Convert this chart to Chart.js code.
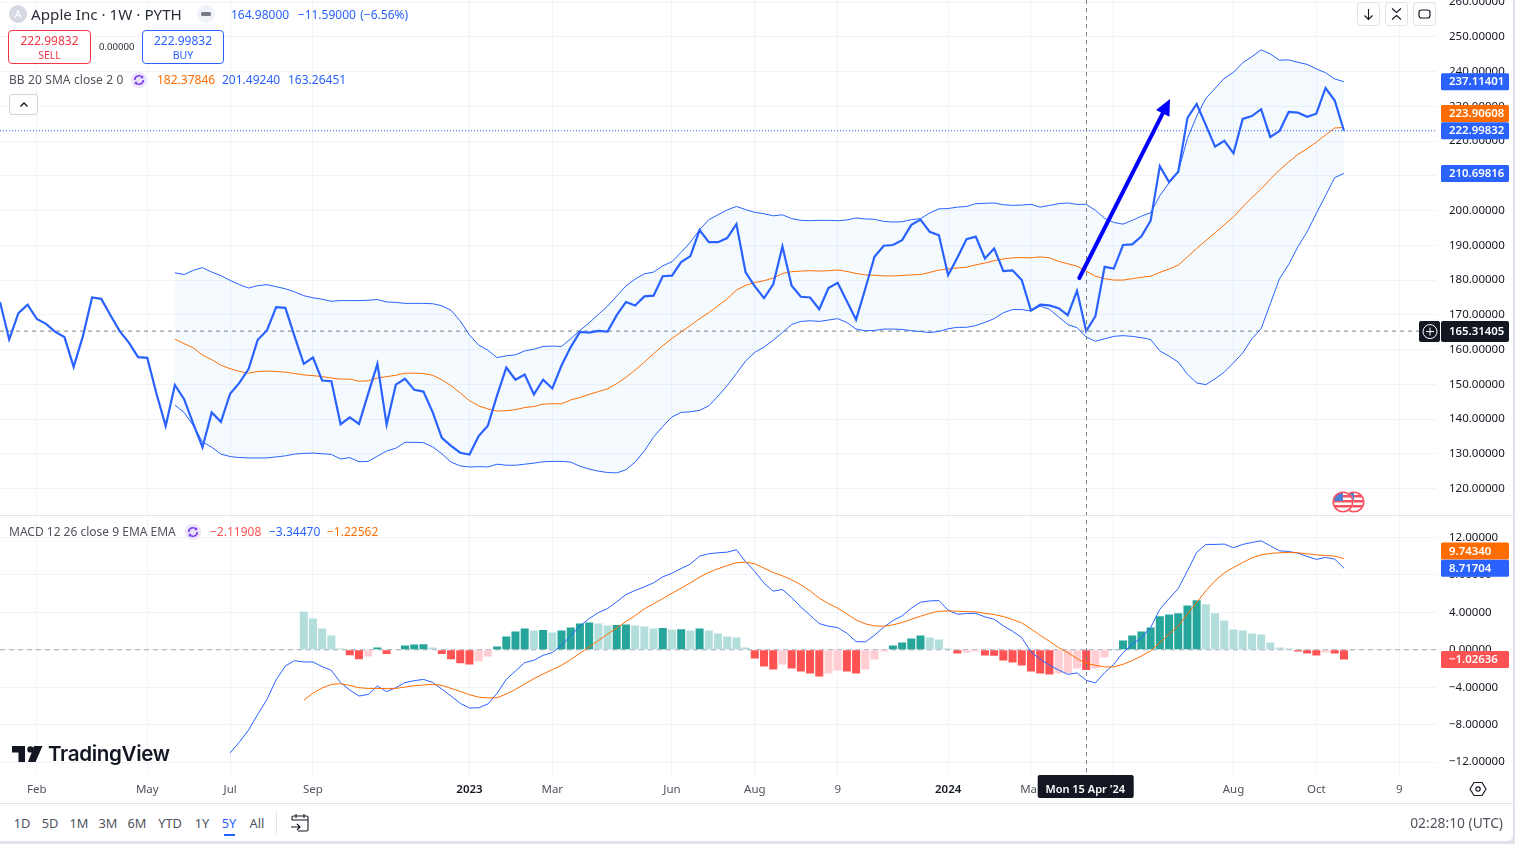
<!DOCTYPE html>
<html><head><meta charset="utf-8">
<script src="https://cdn.jsdelivr.net/npm/chart.js@4"></script>
<style>
html,body{margin:0;padding:0;background:#e0e3eb;overflow:hidden;width:1515px;height:844px}
#page{position:absolute;left:0;top:0;width:1513px;height:841px;background:#fff;border-bottom-right-radius:6px;overflow:hidden;font-family:"Noto Sans",sans-serif;color:#131722}
canvas{position:absolute;left:0;top:0}
.t{position:absolute;white-space:nowrap;line-height:16px;height:16px;font-size:12px}
.box{position:absolute;box-sizing:border-box;background:#fff}
.rng{position:absolute;top:815px;transform:translateX(-50%);font-size:12.8px;line-height:16px;color:#50535e}
svg{position:absolute;overflow:visible}
</style></head><body><div id="page">
<canvas id="c" width="1515" height="803"></canvas>

<svg style="left:9px;top:5px" width="18" height="18"><circle cx="9" cy="9" r="9" fill="#d6d9e2"/><text x="9" y="13" text-anchor="middle" font-size="11" fill="#fff" font-family="Noto Sans">A</text></svg>
<div class="t" style="left:31px;top:6px;font-size:15.2px;color:#2a2e39">Apple Inc · 1W · PYTH</div>
<svg style="left:197px;top:5px" width="18" height="18"><circle cx="9" cy="9" r="9" fill="#f0f3fa"/><rect x="4" y="7" width="10" height="4" rx="1.5" fill="#787b86"/></svg>
<div class="t" style="left:231px;top:7px;color:#2962ff;word-spacing:1.2px">164.98000&nbsp; −11.59000 (−6.56%)</div>

<div class="box" style="left:8px;top:30px;width:83px;height:34px;border:1px solid #f23645;border-radius:4px"></div>
<div class="t" style="left:8px;width:83px;text-align:center;top:33px;color:#f23645">222.99832</div>
<div class="t" style="left:8px;width:83px;text-align:center;top:47px;color:#f23645;font-size:10.5px">SELL</div>
<div class="t" style="left:99px;top:39px;font-size:9.6px;color:#2a2e39">0.00000</div>
<div class="box" style="left:142px;top:30px;width:82px;height:34px;border:1px solid #2962ff;border-radius:4px"></div>
<div class="t" style="left:142px;width:82px;text-align:center;top:33px;color:#2962ff">222.99832</div>
<div class="t" style="left:142px;width:82px;text-align:center;top:47px;color:#2962ff;font-size:10.5px">BUY</div>

<div class="t" style="left:9px;top:72px;color:#50535e;word-spacing:.4px">BB 20 SMA close 2 0</div>
<svg style="left:131px;top:72px" width="16" height="16"><circle cx="8" cy="8" r="8" fill="#ece4fb"/><path d="M3.7 8a4.3 4.3 0 0 1 7.6-2.7M12.3 8a4.3 4.3 0 0 1-7.6 2.7" fill="none" stroke="#7e3ff2" stroke-width="1.6"/><path d="M12.2 3.2v3h-3zM3.8 12.8v-3h3z" fill="#7e3ff2"/></svg>
<div class="t" style="left:157px;top:72px;color:#ff6d00">182.37846</div>
<div class="t" style="left:222px;top:72px;color:#2962ff">201.49240</div>
<div class="t" style="left:288px;top:72px;color:#2962ff">163.26451</div>
<div class="box" style="left:9px;top:94px;width:29px;height:21px;border:1px solid #d1d4dc;border-radius:3px"></div>
<svg style="left:19px;top:101px" width="10" height="7"><path d="M1.5 5.5 5 2l3.5 3.5" fill="none" stroke="#131722" stroke-width="1.4"/></svg>

<div class="t" style="left:9px;top:524px;color:#50535e">MACD 12 26 close 9 EMA EMA</div>
<svg style="left:185px;top:524px" width="16" height="16"><circle cx="8" cy="8" r="8" fill="#ece4fb"/><path d="M3.7 8a4.3 4.3 0 0 1 7.6-2.7M12.3 8a4.3 4.3 0 0 1-7.6 2.7" fill="none" stroke="#7e3ff2" stroke-width="1.6"/><path d="M12.2 3.2v3h-3zM3.8 12.8v-3h3z" fill="#7e3ff2"/></svg>
<div class="t" style="left:210px;top:524px;color:#ff5252">−2.11908</div>
<div class="t" style="left:269px;top:524px;color:#2962ff">−3.34470</div>
<div class="t" style="left:327px;top:524px;color:#ff6d00">−1.22562</div>

<div class="box" style="left:1357px;top:2px;width:23px;height:24px;border:1px solid #e0e3eb;border-radius:4px"></div>
<svg style="left:1362px;top:8px" width="13" height="13"><path d="M6.5 1v10M2.5 7.5l4 4 4-4" fill="none" stroke="#131722" stroke-width="1.1"/></svg>
<div class="box" style="left:1385px;top:2px;width:23px;height:24px;border:1px solid #e0e3eb;border-radius:4px"></div>
<svg style="left:1390px;top:7px" width="13" height="14"><path d="M2 1.5l4.5 4 4.5-4M2 12.5l4.5-4 4.5 4" fill="none" stroke="#131722" stroke-width="1.1"/></svg>
<div class="box" style="left:1413px;top:2px;width:23px;height:24px;border:1px solid #e0e3eb;border-radius:4px"></div>
<svg style="left:1418px;top:8px" width="13" height="12"><rect x="1" y="2" width="11" height="8" rx="2.5" fill="none" stroke="#131722" stroke-width="1.2"/></svg>

<svg style="left:1332px;top:491px" width="33" height="22">
<defs><clipPath id="f1"><circle cx="22" cy="11" r="9.5"/></clipPath><clipPath id="f2"><circle cx="11" cy="11" r="9.5"/></clipPath></defs>
<g clip-path="url(#f1)"><rect x="12" y="1" width="21" height="20" fill="#fff"/><rect x="12" y="4" width="21" height="2.5" fill="#f7525f"/><rect x="12" y="9" width="21" height="2.5" fill="#f7525f"/><rect x="12" y="14" width="21" height="2.5" fill="#f7525f"/><rect x="12" y="1" width="10" height="9" fill="#4c7fd6"/></g>
<circle cx="22" cy="11" r="9.8" fill="none" stroke="#f7525f" stroke-width="1.6"/>
<circle cx="11" cy="11" r="10.6" fill="#fff"/>
<g clip-path="url(#f2)"><rect x="1" y="1" width="21" height="20" fill="#fff"/><rect x="1" y="4" width="21" height="2.5" fill="#f7525f"/><rect x="1" y="9" width="21" height="2.5" fill="#f7525f"/><rect x="1" y="14" width="21" height="2.5" fill="#f7525f"/><rect x="1" y="1" width="10" height="9" fill="#4c7fd6"/></g>
<circle cx="11" cy="11" r="9.8" fill="none" stroke="#f7525f" stroke-width="1.6"/>
</svg>

<svg style="left:12px;top:746px" width="31" height="17"><path d="M0 0h13v16H6.5V6.5H0zM16 0h14.5l-7 16H16l6-16z" fill="#131722"/><circle cx="18.5" cy="3.4" r="3.2" fill="#131722"/></svg>
<div class="t" style="left:48px;top:743px;height:22px;line-height:22px;font-size:20.6px;font-weight:600;letter-spacing:-.35px;color:#131722;font-family:Inter,sans-serif">TradingView</div>

<div class="box" style="left:0;top:803px;width:1513px;height:1px;background:#e0e3eb"></div>
<div class="box" style="left:0;top:515px;width:1513px;height:1px;background:#e0e3eb"></div>

<svg style="left:1469px;top:781px" width="18" height="16"><path d="M5 1.5h8L17 8l-4 6.5H5L1 8z" fill="none" stroke="#131722" stroke-width="1.2" stroke-linejoin="round"/><circle cx="9" cy="8" r="2.2" fill="none" stroke="#131722" stroke-width="1.2"/></svg>

<div class="rng" style="left:22px">1D</div>
<div class="rng" style="left:50px">5D</div>
<div class="rng" style="left:79px">1M</div>
<div class="rng" style="left:108px">3M</div>
<div class="rng" style="left:137px">6M</div>
<div class="rng" style="left:170px">YTD</div>
<div class="rng" style="left:202px">1Y</div>
<div class="rng" style="left:229px;color:#2962ff">5Y</div>
<div class="rng" style="left:257px">All</div>
<div class="box" style="left:224px;top:834px;width:11px;height:2px;background:#2962ff"></div>
<div class="box" style="left:276px;top:812px;width:1px;height:22px;background:#e0e3eb"></div>
<svg style="left:290px;top:813px" width="20" height="20"><path d="M2 7V4.5A1.5 1.5 0 0 1 3.500 3h13A1.500 1.500 0 0 1 18 4.500V16.500A1.500 1.500 0 0 1 16.500 18H8M2 7h16M6 1v4M14 1v4M1 14h9M7 11l3 3-3 3" fill="none" stroke="#131722" stroke-width="1.100"/></svg>
<div class="t" style="right:10px;top:815px;font-size:13.8px;color:#50535e">02:28:10 (UTC)</div>
</div>

<script>
// ---------- categories: weekly bars ----------
const firstWeek = '2022-01-10';
const weekCount = 157;
const tickWeeks  = ['2022-02-07','2022-05-02','2022-07-04','2022-09-05','2023-01-02','2023-03-06','2023-06-05','2023-08-07','2023-10-09','2024-01-01','2024-03-04','2024-05-06','2024-08-05','2024-10-07','2024-12-09'];
const tickLabels = ['Feb','May','Jul','Sep','2023','Mar','Jun','Aug','9','2024','Mar','May','Aug','Oct','9'];
const yearLabels = ['2023','2024'];
const crossWeek  = '2024-04-15';
// arrow end points: [week position on the time scale, price]
const arrowTail = [117.25, 180.6];
const arrowTip  = [127.1, 232.1];

// ---------- price pane ----------
const closes = [173.7,162.9,170.5,172.9,168.8,167.4,165.1,163.6,155.0,163.8,175.0,174.6,169.9,165.3,162.0,157.8,157.6,147.3,138.0,149.8,
145.7,138.6,131.9,141.9,139.2,147.3,150.4,154.4,162.8,165.5,172.2,172.0,163.8,155.9,157.7,151.1,150.9,138.5,140.5,138.6,
147.3,155.9,138.4,149.9,151.6,148.4,147.9,142.0,134.6,132.3,130.3,129.8,135.1,138.1,146.8,154.8,151.3,152.8,147.1,151.3,
148.8,155.4,160.7,165.1,164.9,165.4,165.2,169.9,173.7,172.7,175.3,175.5,181.1,181.3,185.2,186.9,194.4,190.9,190.9,192.1,
196.1,182.2,178.2,174.8,178.8,189.7,178.4,175.2,175.0,171.6,177.7,179.2,173.9,168.6,177.5,186.7,189.9,190.1,191.5,195.9,
197.4,193.9,192.9,181.4,186.4,191.8,192.5,186.2,189.1,182.6,182.8,180.0,171.2,172.9,172.7,171.9,169.9,176.9,165.3,169.6,
183.8,183.3,190.1,190.3,192.6,197.1,212.8,208.2,211.2,226.7,230.7,224.6,218.4,220.1,216.5,226.4,227.2,229.2,221.2,222.9,
228.4,228.2,227.0,227.9,235.3,231.7,222.998];
const bandStart = 19;
const bbUpper = [182.1,181.6,182.8,183.6,182.3,181.3,179.9,178.7,177.7,178.4,178.7,178.1,177.5,176.6,175.5,174.9,174.5,173.9,174.1,174.1,
174.1,174.2,174.4,173.7,173.6,173.3,173.3,173.3,173.2,172.6,171.3,168.2,164.2,161.3,159.8,157.7,158.2,158.5,159.6,160.1,
160.9,161.0,160.9,163.1,165.5,167.7,170.1,172.5,175.4,178.3,180.3,181.8,182.3,184.1,185.3,188.0,190.9,194.5,197.4,198.8,
200.2,201.2,200.3,199.5,199.1,198.5,198.8,197.7,197.2,197.1,197.2,197.2,197.1,197.3,197.9,197.6,197.5,196.9,196.7,196.8,
197.4,197.7,199.3,200.5,200.6,201.0,201.2,202.0,202.1,202.2,201.7,201.5,201.6,201.8,201.0,201.5,202.0,202.2,201.8,201.8,
200.1,197.8,196.6,196.1,197.2,198.4,199.4,204.3,208.0,211.2,220.8,227.2,232.3,235.2,238.1,239.8,242.6,244.3,246.3,245.1,
243.3,243.4,242.7,242.1,240.8,239.7,237.9,237.114];
const bbBasis = [163.0,161.7,160.5,158.4,157.1,155.5,154.5,153.7,153.2,153.7,153.8,153.7,153.5,153.1,152.7,152.5,152.2,151.8,151.5,151.5,
150.9,151.0,151.8,152.2,152.6,153.2,153.2,153.1,152.6,151.3,149.6,147.5,145.3,143.8,142.9,142.3,142.4,142.7,143.3,143.6,
144.3,144.4,144.4,145.5,146.2,147.1,147.9,148.7,150.2,152.0,154.1,156.4,158.8,161.1,163.2,165.1,166.9,168.9,170.6,172.6,
174.6,177.1,178.5,179.3,179.8,180.6,181.9,182.4,182.6,182.7,182.6,182.7,182.9,182.5,181.9,181.5,181.4,181.2,181.2,181.3,
181.5,181.6,182.2,182.9,183.2,183.5,183.7,184.4,184.9,185.6,186.1,186.4,186.5,186.4,186.7,186.4,185.4,184.7,184.0,182.6,
181.1,180.4,180.0,180.0,180.4,180.8,181.1,182.2,183.2,184.3,186.7,189.1,191.4,193.6,195.9,198.2,201.1,203.8,206.2,209.1,
211.7,214.0,216.2,217.8,219.7,221.8,223.8,223.906];
const bbLower = [144.0,141.9,138.1,133.4,131.9,129.9,129.2,128.9,128.8,128.8,128.8,129.1,129.4,129.9,130.1,130.2,130.0,129.8,128.5,128.9,
127.7,127.8,129.3,130.8,131.6,133.3,133.3,133.2,132.0,130.0,127.6,126.5,126.2,126.3,126.2,127.0,126.7,126.7,127.0,127.3,
127.7,127.8,127.8,127.6,126.4,125.6,125.0,124.6,124.5,125.4,127.6,130.8,134.8,137.9,140.6,141.9,142.1,142.5,143.8,146.6,
149.6,153.1,156.7,159.2,160.7,162.7,164.9,167.2,168.1,168.3,168.1,168.5,168.9,167.8,165.9,165.4,165.5,165.9,165.9,165.8,
165.4,165.2,164.9,165.2,166.0,166.4,166.4,166.9,167.8,168.9,170.6,171.5,171.5,171.1,172.5,171.6,169.4,167.2,166.3,163.6,
162.4,163.1,163.8,164.0,163.8,163.4,162.9,159.6,158.1,156.4,152.9,150.4,149.9,151.6,153.5,156.2,159.0,163.1,166.0,173.2,
180.4,184.5,189.6,193.9,199.2,204.3,209.5,210.698];
const crosshairPrice = 165.31405;
const lastPrice = 222.99832;
const priceTags = [
  {text:'237.11401', value:237.114, bg:'#2962ff', fg:'#fff', shift:0},
  {text:'223.90608', value:223.906, bg:'#ff6d00', fg:'#fff', shift:-14},
  {text:'222.99832', value:222.998, bg:'#2962ff', fg:'#fff', shift:0},
  {text:'210.69816', value:210.698, bg:'#2962ff', fg:'#fff', shift:0},
  {text:'165.31405', value:165.314, bg:'#131722', fg:'#fff', shift:0}
];

// ---------- MACD pane ----------
const macdStart = 25;
const macdLine = [-11.0,-9.86,-8.57,-6.9,-5.3,-3.2,-1.73,-1.16,-1.3,-1.3,-1.8,-2.2,-3.5,-4.3,-4.94,-4.76,-3.87,-4.47,-4.05,-3.5,
-3.3,-3.16,-3.48,-4.2,-4.94,-5.72,-6.22,-6.19,-5.79,-4.65,-3.16,-2.26,-1.37,-1.12,-0.59,-0.3,0.48,1.48,2.55,3.33,
3.97,4.4,5.12,5.9,6.33,6.72,7.15,7.79,8.18,8.68,9.15,10.0,10.25,10.36,10.43,10.68,9.4,8.36,7.11,6.26,
6.44,5.58,4.58,3.69,2.8,2.52,2.37,1.77,0.87,0.84,1.55,2.41,3.12,3.62,4.44,5.08,5.22,5.26,4.23,3.8,
3.87,3.9,3.51,3.26,2.55,1.98,1.3,-0.23,-1.0,-1.66,-2.15,-2.62,-2.47,-3.26,-3.54,-2.44,-1.55,-0.3,0.59,1.3,
2.37,4.33,5.47,6.54,8.43,10.4,11.25,11.25,11.29,10.9,11.25,11.46,11.64,11.1,10.57,10.5,10.32,9.97,9.65,9.86,
9.68,8.717];
const signalStart = 33;
const signalLine = [-5.4,-4.62,-4.08,-3.69,-3.62,-3.8,-4.05,-4.12,-4.12,-4.15,-4.12,-3.98,-3.83,-3.76,-3.69,-3.8,-4.12,-4.44,-4.8,-5.05,
-5.15,-5.12,-4.72,-4.23,-3.65,-3.08,-2.58,-2.12,-1.66,-1.05,-0.37,0.3,0.98,1.66,2.33,3.01,3.65,4.37,4.9,5.47,
6.04,6.58,7.15,7.76,8.26,8.65,9.0,9.29,9.36,9.18,8.72,8.26,7.9,7.47,6.94,6.3,5.51,4.94,4.44,3.83,
3.19,2.77,2.55,2.52,2.66,2.91,3.26,3.58,3.9,4.12,4.15,4.12,4.08,4.05,3.9,3.76,3.55,3.23,2.87,2.23,
1.55,0.91,0.23,-0.3,-0.94,-1.44,-1.66,-1.83,-1.83,-1.55,-1.16,-0.66,-0.12,0.77,1.66,2.55,3.8,5.05,6.3,7.36,
8.22,8.79,9.32,9.82,10.14,10.29,10.36,10.39,10.36,10.25,10.14,10.07,10.0,9.743];
const histogram = [4.1,3.35,2.28,1.53,0.14,-0.57,-1.0,-0.71,0.25,-0.46,0.07,0.46,0.57,0.6,0.25,-0.46,-1.0,-1.43,-1.57,-1.25,
-0.71,0.36,1.43,1.96,2.28,2.07,2.12,1.85,2.07,2.39,2.82,2.92,2.82,2.6,2.65,2.71,2.6,2.5,2.28,2.33,
2.17,2.2,2.07,2.28,2.07,1.75,1.43,1.32,0.25,-0.93,-1.78,-2.1,-1.57,-2.0,-2.32,-2.53,-2.85,-2.53,-2.21,-2.32,
-2.53,-2.1,-1.03,-0.18,0.46,0.78,1.21,1.53,1.32,1.1,0.14,-0.39,-0.29,-0.18,-0.6,-0.63,-1.14,-1.35,-1.68,-2.32,
-2.53,-2.64,-2.53,-2.5,-2.0,-2.17,-2.0,-0.82,0.04,1.0,1.53,1.96,2.39,3.57,3.78,3.89,4.74,5.28,4.85,3.89,
3.14,2.17,2.07,1.75,1.64,0.78,0.25,0.14,-0.18,-0.39,-0.6,-0.29,-0.39,-1.026];
const histColors = {upRising:'#26a69a', upFalling:'#b2dfdb', downFalling:'#ff5252', downRising:'#ffcdd2'};
const macdTags = [
  {text:'9.74340', value:9.743, bg:'#ff6d00', fg:'#fff', shift:-7.5},
  {text:'8.71704', value:8.717, bg:'#2962ff', fg:'#fff', shift:0},
  {text:'\u22121.02636', value:-1.026, bg:'#ff5252', fg:'#fff', shift:0}
];

// ---------- build ----------
const FONT = '"Noto Sans", sans-serif';
const categories = [];
{ const d = new Date(firstWeek + 'T00:00:00Z');
  for (let i = 0; i < weekCount; i++) { categories.push(d.toISOString().slice(0,10)); d.setUTCDate(d.getUTCDate()+7); } }
const lead = (n, arr) => Array(n).fill(null).concat(arr);
const level = v => Array(weekCount).fill(v);
const minus = s => s.replace('-', '\u2212');
const noPad = ax => { ax.paddingTop = ax.paddingBottom = ax.paddingLeft = ax.paddingRight = 0; };

const tagPlugin = {
  id:'tags',
  afterDatasetsDraw(chart){
    const {ctx, chartArea:a, scales:{x}} = chart;
    const cx = x.getPixelForValue(categories.indexOf(crossWeek));
    ctx.save();
    ctx.strokeStyle = '#787b86'; ctx.lineWidth = 1; ctx.setLineDash([4,4]);
    ctx.beginPath(); ctx.moveTo(Math.round(cx)+.5, a.top); ctx.lineTo(Math.round(cx)+.5, a.bottom); ctx.stroke();
    ctx.setLineDash([]);
    // arrow
    const yP = chart.scales.yP;
    const tx = x.getPixelForValue(arrowTail[0]), ty = yP.getPixelForValue(arrowTail[1]);
    const hx = x.getPixelForValue(arrowTip[0]),  hy = yP.getPixelForValue(arrowTip[1]);
    const ang = Math.atan2(hy-ty, hx-tx), L = 16, W = 7.5;
    const bx = hx - L*Math.cos(ang), by = hy - L*Math.sin(ang);
    ctx.strokeStyle = ctx.fillStyle = '#0000ff'; ctx.lineWidth = 4; ctx.lineCap = 'round';
    ctx.beginPath(); ctx.moveTo(tx,ty); ctx.lineTo(bx,by); ctx.stroke();
    ctx.beginPath(); ctx.moveTo(hx,hy);
    ctx.lineTo(bx + W*Math.sin(ang), by - W*Math.cos(ang));
    ctx.lineTo(bx - W*Math.sin(ang), by + W*Math.cos(ang)); ctx.closePath(); ctx.fill();
    ctx.restore();
  },
  afterDraw(chart){
    const {ctx, scales:{x,yP,yM}} = chart;
    ctx.save();
    ctx.textBaseline = 'middle'; ctx.textAlign = 'left';
    const draw = (t, s) => {
      const y = s.getPixelForValue(t.value) + t.shift;
      ctx.fillStyle = t.bg; ctx.beginPath(); ctx.roundRect(1441, y-8.5, 68, 17, 1.5); ctx.fill();
      ctx.fillStyle = t.fg; ctx.font = '600 11.4px ' + FONT; ctx.fillText(t.text, 1449, y+.5);
    };
    priceTags.forEach(t => draw(t, yP));
    macdTags.forEach(t => draw(t, yM));
    // crosshair plus button
    const py = yP.getPixelForValue(crosshairPrice);
    ctx.fillStyle = '#131722'; ctx.beginPath(); ctx.roundRect(1419, py-10, 21, 21, 2); ctx.fill();
    ctx.beginPath(); ctx.roundRect(1441, py-10, 68, 21, 2); ctx.fill();
    ctx.fillStyle = '#fff'; ctx.font = '600 11.4px ' + FONT; ctx.fillText(priceTags[4].text, 1449, py+.5);
    ctx.strokeStyle = '#fff'; ctx.lineWidth = 1;
    ctx.beginPath(); ctx.arc(1430, py+.5, 7, 0, 7); ctx.moveTo(1426, py+.5); ctx.lineTo(1434, py+.5); ctx.moveTo(1430, py-3.5); ctx.lineTo(1430, py+4.5); ctx.stroke();
    // crosshair date
    const cx = x.getPixelForValue(categories.indexOf(crossWeek));
    ctx.fillStyle = '#131722'; ctx.beginPath(); ctx.roundRect(cx-48.5, 775, 96, 23, 2); ctx.fill();
    ctx.fillStyle = '#fff'; ctx.textAlign = 'center'; ctx.font = '600 11px ' + FONT;
    ctx.fillText("Mon 15 Apr '24", cx-1, 789.5);
    ctx.restore();
  }
};

new Chart(document.getElementById('c').getContext('2d'), {
  data:{
    labels:categories,
    datasets:[
      {type:'bar', label:'Histogram', yAxisID:'yM', order:9, data:lead(signalStart, histogram), barPercentage:.87, categoryPercentage:1,
        backgroundColor:ctx => {
          const v = histogram, i = ctx.dataIndex - signalStart;
          if (i < 0) return 'transparent';
          const p = i > 0 ? v[i-1] : Infinity;
          return v[i] >= 0 ? (v[i] > p ? histColors.upRising : histColors.upFalling) : (v[i] < p ? histColors.downFalling : histColors.downRising);
        }},
      {type:'line', label:'Zero', yAxisID:'yM', order:10, data:level(0), borderColor:'#a3a6af', borderWidth:1, borderDash:[5,4], pointRadius:0},
      {type:'line', label:'MACD', yAxisID:'yM', order:3, data:lead(macdStart, macdLine), borderColor:'#2962ff', borderWidth:1, pointRadius:0, tension:0},
      {type:'line', label:'Signal', yAxisID:'yM', order:2, data:lead(signalStart, signalLine), borderColor:'#ff6d00', borderWidth:1, pointRadius:0, tension:0},

      {type:'line', label:'BB upper', yAxisID:'yP', order:6, data:lead(bandStart, bbUpper), borderColor:'#2962ff', borderWidth:1, pointRadius:0, tension:0,
        fill:{target:'+2', above:'rgba(33,150,243,.05)', below:'rgba(33,150,243,.05)'}},
      {type:'line', label:'BB basis', yAxisID:'yP', order:5, data:lead(bandStart, bbBasis), borderColor:'#ff6d00', borderWidth:1, pointRadius:0, tension:0},
      {type:'line', label:'BB lower', yAxisID:'yP', order:7, data:lead(bandStart, bbLower), borderColor:'#2962ff', borderWidth:1, pointRadius:0, tension:0},
      {type:'line', label:'Close', yAxisID:'yP', order:1, data:closes, borderColor:'#2962ff', borderWidth:2.2, pointRadius:0, tension:0, borderJoinStyle:'miter'},
      {type:'line', label:'Crosshair', yAxisID:'yP', order:8, data:level(crosshairPrice), borderColor:'#787b86', borderWidth:1, borderDash:[4,4], pointRadius:0},
      {type:'line', label:'Last', yAxisID:'yP', order:0, data:level(lastPrice), borderColor:'#2962ff', borderWidth:1, borderDash:[1,2], pointRadius:0}
    ]
  },
  options:{
    responsive:false, animation:false, devicePixelRatio:1, events:[],
    layout:{padding:0, autoPadding:false},
    plugins:{legend:{display:false}, tooltip:{enabled:false}, filler:{propagate:false}},
    scales:{
      x:{type:'category', offset:false,
        grid:{offset:false, color:'#f0f3fa', lineWidth:1, drawTicks:false}, border:{display:false},
        afterBuildTicks:ax => { ax.ticks = ax.ticks.filter(t => tickWeeks.includes(categories[t.value])); },
        afterFit:ax => { ax.height = 28; noPad(ax); },
        ticks:{autoSkip:false, maxRotation:0, minRotation:0, padding:8,
          callback:v => tickLabels[tickWeeks.indexOf(categories[v])],
          color:c => yearLabels.includes(c.tick.label) ? '#131722' : '#50535e',
          font:c => ({family:FONT, size:11.5, weight:yearLabels.includes(c.tick.label) ? '600' : '400'})}},
      yP:{type:'linear', position:'right', stack:'panes', stackWeight:515.5, min:112.23, max:260.63, weight:1,
        grid:{color:'#f0f3fa', lineWidth:1, drawTicks:false}, border:{display:false},
        afterFit:ax => { ax.width = 79; noPad(ax); },
        ticks:{stepSize:10, includeBounds:false, autoSkip:false, padding:13, color:'#131722', font:{family:FONT, size:11.5},
          callback:v => v.toFixed(5)}},
      yM:{type:'linear', position:'right', stack:'panes', stackWeight:259.5, min:-13.37, max:14.34, weight:2,
        grid:{color:'#f0f3fa', lineWidth:1, drawTicks:false}, border:{display:false},
        afterFit:ax => { ax.width = 79; noPad(ax); },
        ticks:{stepSize:4, includeBounds:false, autoSkip:false, padding:13, color:'#131722', font:{family:FONT, size:11.5},
          callback:v => minus(v.toFixed(5))}}
    }
  },
  plugins:[tagPlugin]
});
</script>
</body></html>
